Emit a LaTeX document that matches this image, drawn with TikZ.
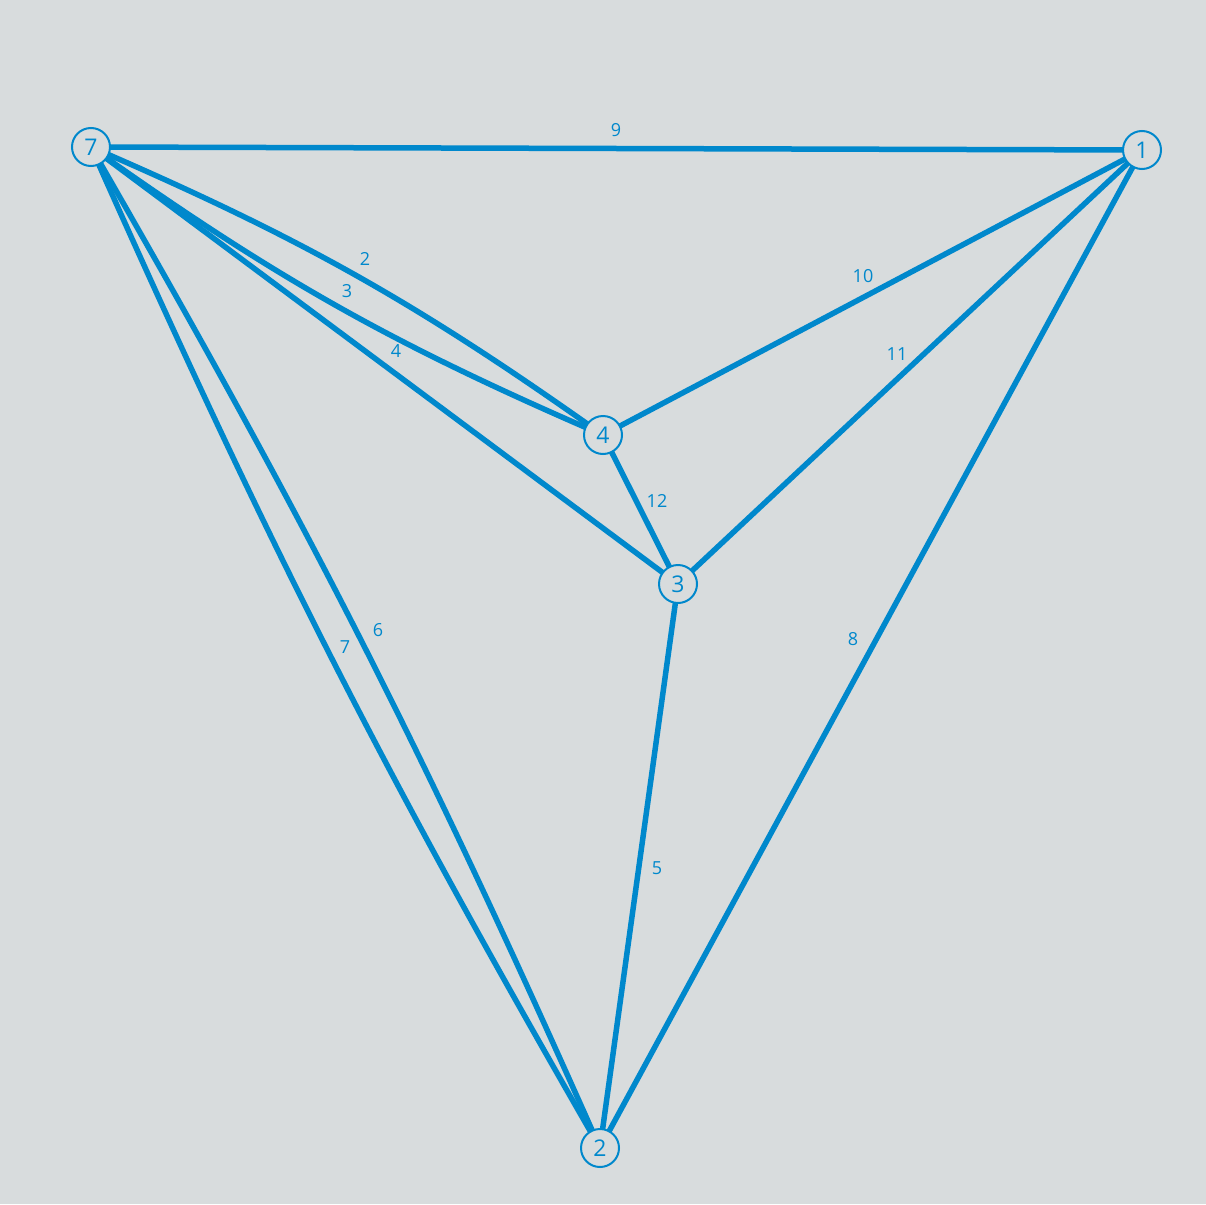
\documentclass[tikz,border=0pt]{standalone}
\usepackage{fontspec}
\setmainfont{Open Sans}
\definecolor{edgeblue}{RGB}{0,136,204}
\definecolor{bgray}{RGB}{216,220,221}
\begin{document}
\begin{tikzpicture}[x=1pt,y=-1pt,
  vert/.style={circle,draw=edgeblue,line width=2pt,fill=bgray,minimum size=38pt,inner sep=0pt,text=edgeblue,font=\fontsize{23}{27}\selectfont},
  edge/.style={draw=edgeblue,line width=5.5pt},
  elabel/.style={text=edgeblue,font=\fontsize{18}{21}\selectfont,inner sep=0pt}]
\fill[bgray] (0,0) rectangle (1206,1204);
\useasboundingbox (0,0) rectangle (1206,1204);
\coordinate (p7) at (91,147);
\coordinate (p1) at (1142,150);
\coordinate (p4) at (603,435);
\coordinate (p3) at (678,584);
\coordinate (p2) at (600,1148);
% edges
\path[edge] (p7) -- (p1);
\path[edge] (p7) to[bend left=6] (p4);
\path[edge] (p7) to[bend right=6] (p4);
\path[edge] (p7) -- (p3);
\path[edge] (p7) to[bend left=3] (p2);
\path[edge] (p7) to[bend right=3] (p2);
\path[edge] (p1) -- (p4);
\path[edge] (p1) -- (p3);
\path[edge] (p1) -- (p2);
\path[edge] (p4) -- (p3);
\path[edge] (p3) -- (p2);
% vertices
\node[vert] (n7) at (p7) {7};
\node[vert] (n1) at (p1) {1};
\node[vert] (n4) at (p4) {4};
\node[vert] (n3) at (p3) {3};
\node[vert] (n2) at (p2) {2};
% labels
\node[elabel] (l9) at (616,130) {9};
\node[elabel] (l2) at (365,259) {2};
\node[elabel] (l3) at (347,291) {3};
\node[elabel] (l4) at (396,351) {4};
\node[elabel] (l10) at (863,276) {10};
\node[elabel] (l11) at (897,354) {11};
\node[elabel] (l12) at (657,501) {12};
\node[elabel] (l6) at (378,630) {6};
\node[elabel] (l7) at (345,647) {7};
\node[elabel] (l8) at (853,639) {8};
\node[elabel] (l5) at (657,868) {5};
\end{tikzpicture}
\end{document}
